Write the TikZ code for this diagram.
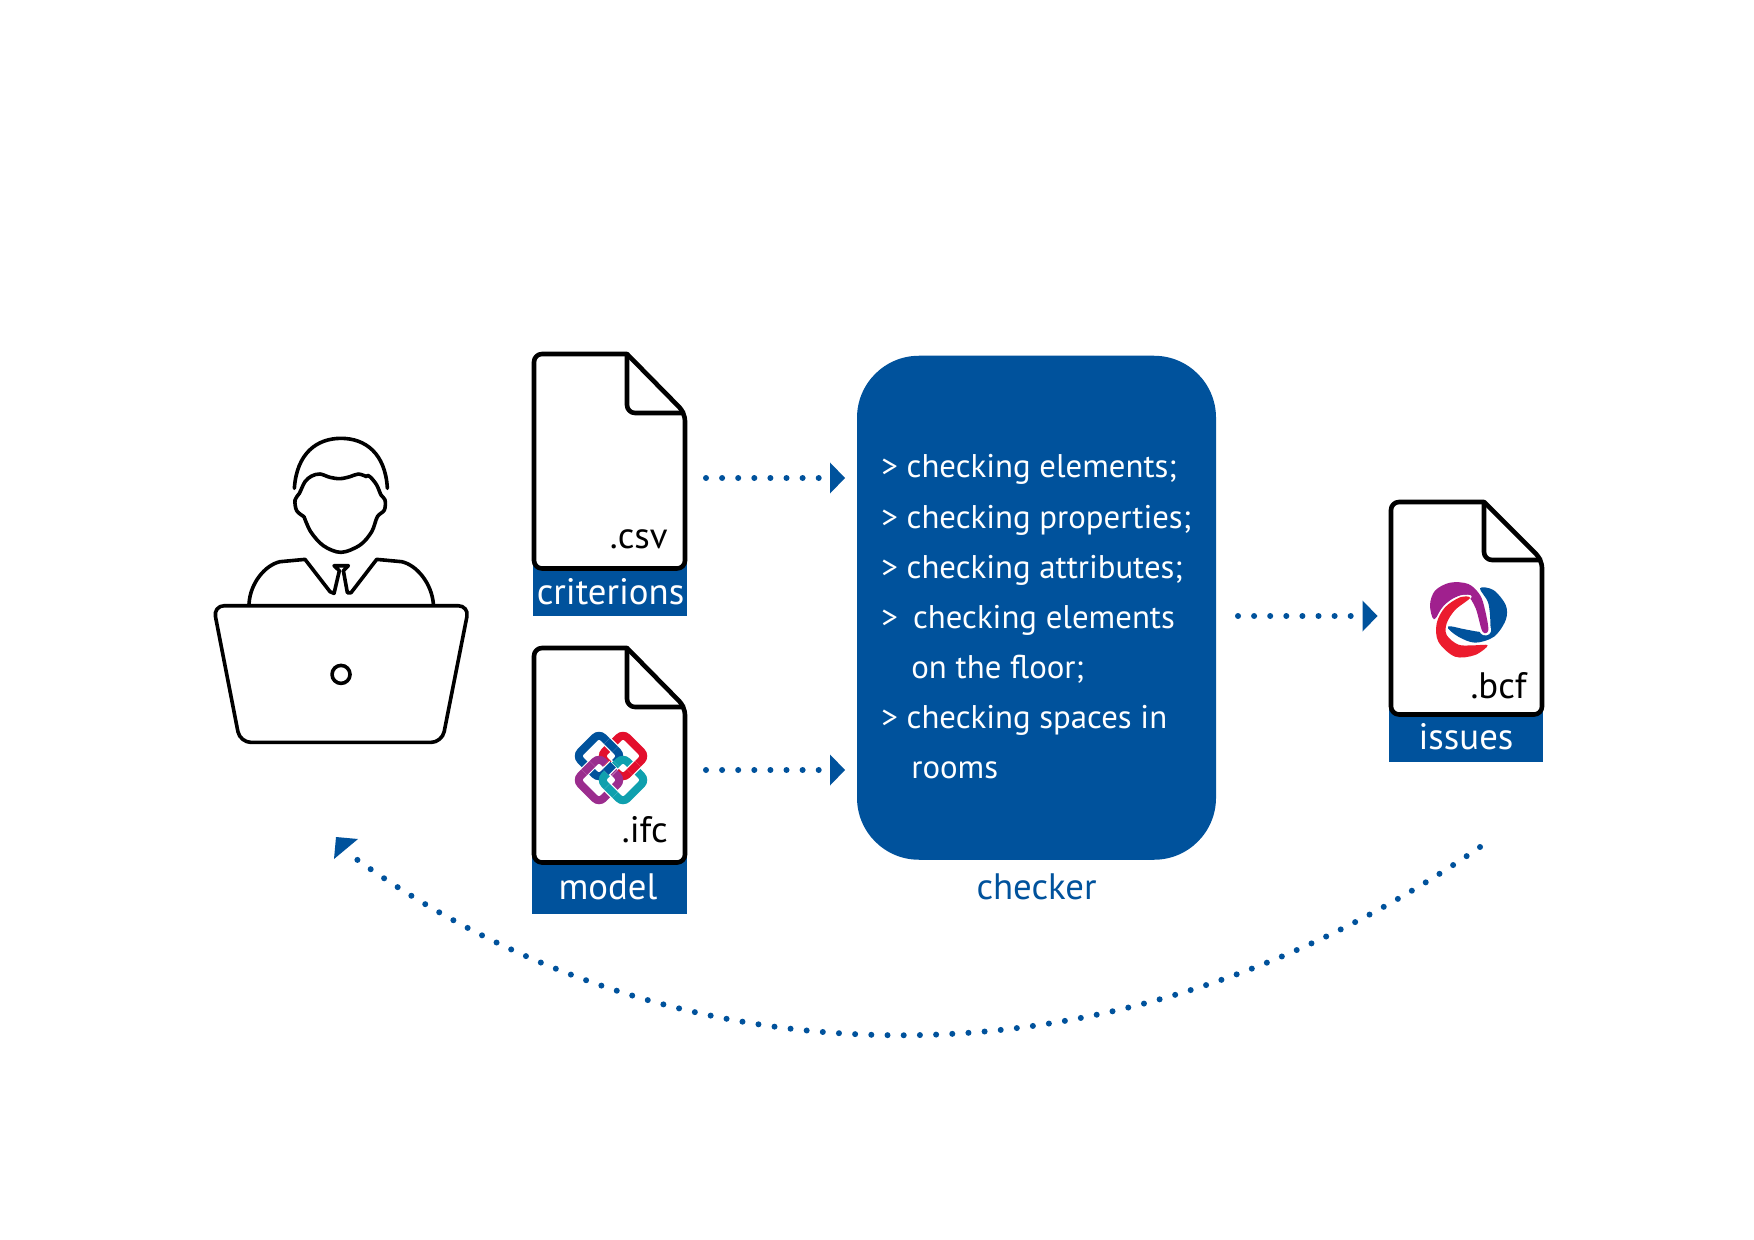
\documentclass[tikz,border=0pt]{standalone}
\usepackage{fontspec}
\setmainfont{PT Sans}
\usetikzlibrary{arrows.meta}
\definecolor{bimblue}{HTML}{00529C}
\definecolor{ifcred}{HTML}{E30F2D}
\definecolor{ifcpurple}{HTML}{9B2D8E}
\definecolor{ifcteal}{HTML}{0FA0AE}
\definecolor{bcfpurple}{HTML}{A0208E}
\definecolor{bcfred}{HTML}{EC1C2E}
\newcommand{\bigtxt}{\fontsize{18.4}{22}\selectfont}
\newcommand{\listtxt}{\fontsize{16.4}{20}\selectfont}
\tikzset{
  band/.style={fill=bimblue,draw=none,inner sep=0pt,anchor=north west},
  bandlabel/.style={text=white,anchor=base,inner sep=0pt,font=\bigtxt},
  extlabel/.style={text=black,anchor=base east,inner sep=0pt,font=\bigtxt},
  listline/.style={text=white,anchor=base west,inner sep=0pt,font=\listtxt},
  checkerbox/.style={fill=bimblue,draw=none,rounded corners=31pt,minimum width=179.5pt,minimum height=252pt,inner sep=0pt},
  filestroke/.style={draw=black,line width=2.3pt,line join=round},
  iconline/.style={draw=black,line width=1.8pt,line cap=round,line join=round},
  dots/.style={draw=bimblue,line width=3pt,line cap=round,dash pattern=on 0pt off 8.05pt},
  dotflow/.style={dots,-{Triangle[length=7.5pt,width=15.5pt,line width=0pt,fill=bimblue]}},
  halo/.style={draw=white,line width=5.2pt,line cap=butt},
  link/.style={line width=4pt,line cap=butt}
}
% left top foldx right foldy bottom
\newcommand{\filedoc}[6]{%
  \draw[filestroke,fill=white] (#3,#2) [rounded corners=4pt] -- (#1,#2) -- (#1,#6) -- (#4,#6) -- (#4,#5) [sharp corners] -- cycle;
  \draw[filestroke] (#3,#2) [rounded corners=4pt] -- (#3,#5) [sharp corners] -- (#4,#5);
}
\newcommand{\patch}[3]{\draw[halo] #2 -- #3; \draw[link,draw=#1] #2 -- #3;}
\begin{document}
\begin{tikzpicture}[x=0.5pt,y=-0.5pt]
\useasboundingbox (0,0) rectangle (1754,1240);
\fill[white] (0,0) rectangle (1754,1240);

% ---- person with laptop
\begin{scope}[shift={(180,400)},x=0.1667pt,y=-0.1667pt]
  \draw[iconline] (343,265) .. controls (350,160) and (410,115) .. (483,115)
     .. controls (556,115) and (616,160) .. (622,265);
  \draw[iconline] plot[smooth,tension=0.55] coordinates {(372,350)(350,332)(345,300)(358,280)(375,245)(395,228)(420,222)(450,232)(480,236)(510,230)(535,222)(560,230)};
  \draw[iconline] plot[smooth,tension=0.55] coordinates {(562,226)(572,232)(590,255)(603,285)(615,300)(613,330)(592,350)(575,395)(540,435)(483,457)(430,437)(392,395)(372,350)};
  \draw[iconline] (207,612) .. controls (210,550) and (255,495) .. (300,485) -- (375,478)
     -- (450,575) -- (462,580) -- (478,512) -- (462,497) -- (505,497) -- (490,512) -- (502,578) -- (513,578)
     -- (590,478) -- (665,485) .. controls (710,495) and (755,550) .. (760,612);
  \draw[iconline,rounded corners=5.5pt] (483,617) -- (100,617) -- (180,1027) -- (786,1027) -- (867,617) -- cycle;
  \draw[iconline] (483,823) circle[radius=27];
\end{scope}

% ---- criterions
\node[band,minimum width=77pt,minimum height=29.5pt] (critband) at (533,557) {};
\filedoc{534}{354}{627}{685}{413}{568.5}
\node[extlabel] (csv) at (668,548.5) {.csv};
\node[bandlabel] (critlabel) at (610.5,604) {criterions};

% ---- model
\node[band,minimum width=77.5pt,minimum height=32pt] (modelband) at (532,850) {};
\filedoc{534}{648}{627}{685}{707}{862.5}
\node[extlabel] (ifc) at (668,842.5) {.ifc};
\node[bandlabel] (modellabel) at (608,899.5) {model};

% ---- IFC logo
\begin{scope}[shift={(560,720)},x=0.1667pt,y=-0.1667pt]
  \foreach \cx/\cy/\col in {117/108/bimblue,189/108/ifcred,117/180/ifcpurple,189/180/ifcteal}{
    \draw[link,draw=\col,rounded corners=3pt] (\cx-34,\cy-34) -- (\cx,\cy-68) -- (\cx+68,\cy) -- (\cx,\cy+68) -- (\cx-68,\cy) -- cycle;
  }
  \patch{bimblue}{(141,64)}{(165,88)}
  \patch{ifcred}{(141,128)}{(165,152)}
  \patch{ifcpurple}{(73,156)}{(97,132)}
  \patch{ifcteal}{(145,156)}{(169,132)}
  \patch{ifcred}{(209,156)}{(233,132)}
  \patch{ifcpurple}{(143,138)}{(163,158)}
  \patch{bimblue}{(137,156)}{(159,134)}
  \patch{ifcteal}{(141,200)}{(165,224)}
\end{scope}

% ---- checker
\node[checkerbox] (checker) at (1036.5,607.75) {};
\node[listline] (l1) at (881,478) {> checking elements;};
\node[listline] (l2) at (881,528) {> checking properties;};
\node[listline] (l3) at (881,578) {> checking attributes;};
\node[listline] (l4) at (881,628) {>\hspace{7.6pt}checking elements};
\node[listline] (l5) at (911,678) {on the floor;};
\node[listline] (l6) at (881,728) {> checking spaces in};
\node[listline] (l7) at (911,778) {rooms};
\node[text=bimblue,anchor=base,inner sep=0pt,font=\bigtxt] (checkerlabel) at (1036.5,899.5) {checker};

% ---- issues
\node[band,minimum width=77pt,minimum height=31pt] (issuesband) at (1389,700) {};
\filedoc{1391}{502}{1484}{1542}{560}{714.5}
\node[extlabel] (bcf) at (1527,698) {.bcf};
\node[bandlabel] (issueslabel) at (1466,749.5) {issues};

% ---- BCF logo
\begin{scope}[shift={(1425,570)},x=0.1667pt,y=-0.1667pt]
  \fill[bimblue] plot[smooth cycle,tension=0.55] coordinates {(165,55)(205,60)(242,105)(242,150)(207,200)(150,218)(100,200)(68,174)(78,169)(120,178)(175,186)(195,170)(190,100)};
  \fill[white] plot[smooth cycle,tension=0.55] coordinates {(20,152)(9,105)(26,57)(75,32)(134,37)(171,72)(186,118)(197,186)(167,190)(147,118)(122,82)(88,91)(58,114)};
  \fill[bcfpurple] plot[smooth cycle,tension=0.55] coordinates {(27,148)(15,105)(30,62)(75,38)(130,42)(165,75)(180,120)(190,180)(172,184)(152,115)(125,76)(85,85)(55,110)};
  \fill[white] plot[smooth cycle,tension=0.55] coordinates {(140,80)(105,77)(56,108)(30,160)(36,218)(90,264)(150,259)(194,222)(145,221)(103,219)(72,193)(71,162)(95,124)};
  \fill[bcfred] plot[smooth cycle,tension=0.55] coordinates {(135,84)(105,82)(60,112)(35,160)(40,215)(90,260)(150,255)(188,226)(145,226)(100,224)(65,195)(65,160)(90,120)};
\end{scope}

% ---- connectors
\coordinate (a1s) at (706,478);
\coordinate (a1e) at (845,478);
\coordinate (a2s) at (706,770);
\coordinate (a2e) at (845,770);
\coordinate (a3s) at (1238,616);
\coordinate (a3e) at (1377.5,616);
\coordinate (a4s) at (1480,847);
\coordinate (a4e) at (352,856);
\coordinate (a4tip) at (336,837);
\coordinate (a4b1) at (358,839);
\coordinate (a4b2) at (334,859);
\draw[dotflow] (a1s) -- (a1e);
\draw[dotflow] (a2s) -- (a2e);
\draw[dotflow] (a3s) -- (a3e);
\draw[dots,dash pattern=on 0pt off 8.1pt] (a4s) .. controls (1110,1103) and (675,1090) .. (a4e);
\fill[bimblue] (a4tip) -- (a4b1) -- (a4b2) -- cycle;
\end{tikzpicture}
\end{document}
